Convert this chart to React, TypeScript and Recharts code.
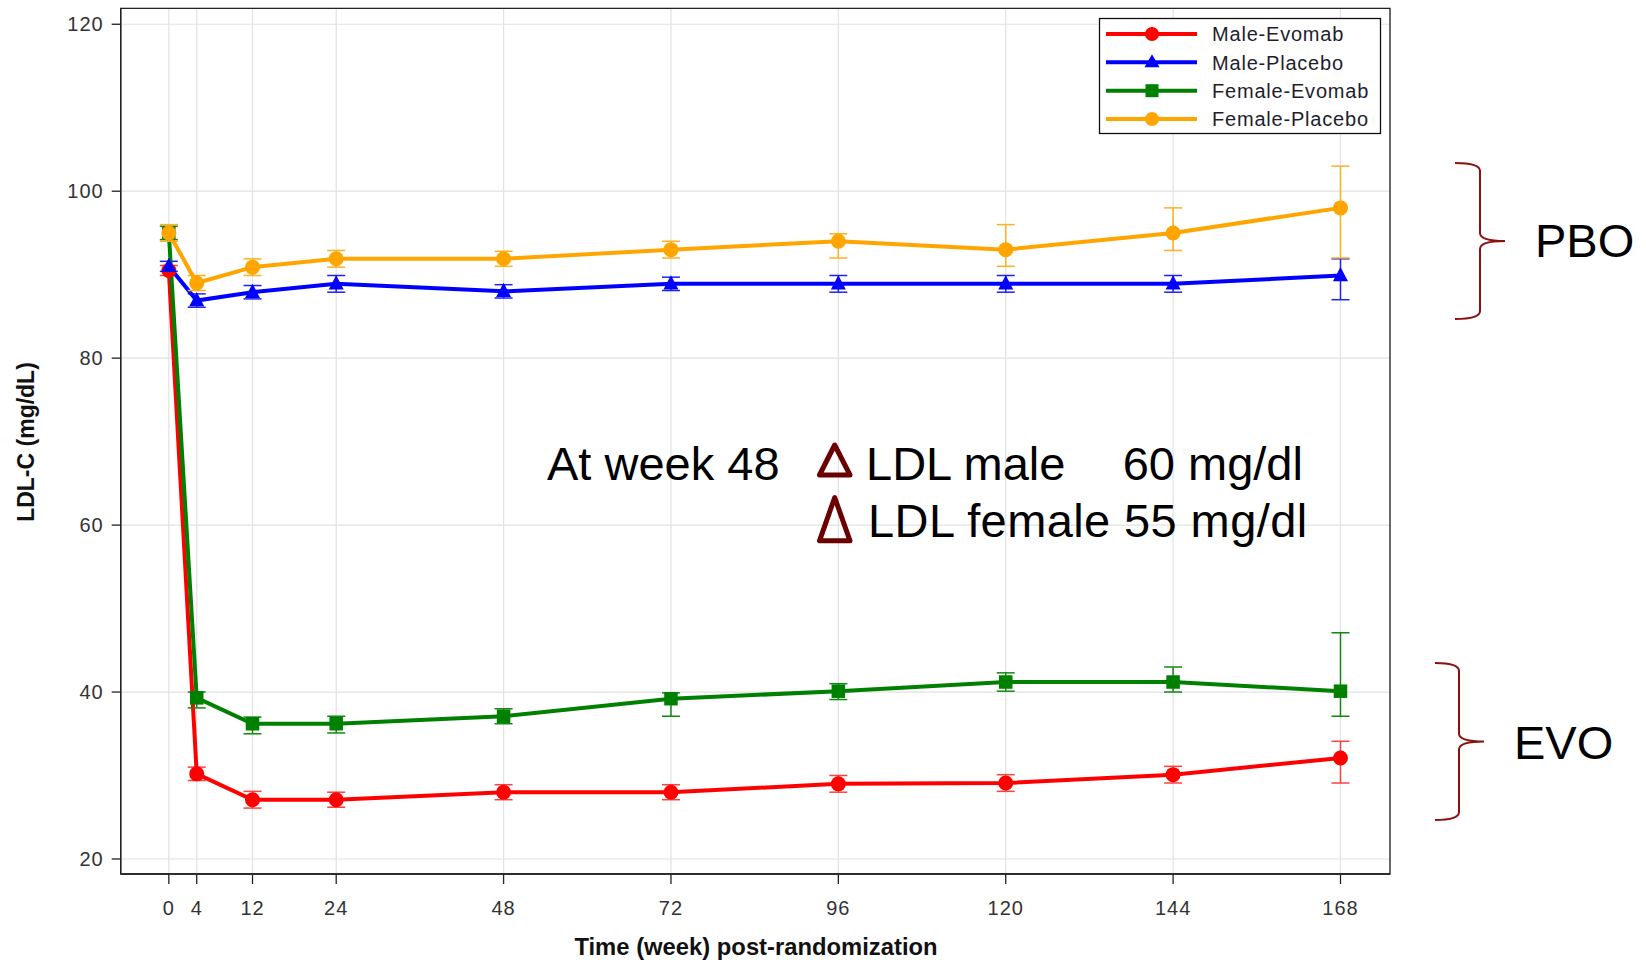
import React from 'react';
import { LineChart, Line, XAxis, YAxis, CartesianGrid, ErrorBar, ReferenceArea } from 'recharts';

const weeks = [0, 4, 12, 24, 48, 72, 96, 120, 144, 168];
const xTicks = [0, 4, 12, 24, 48, 72, 96, 120, 144, 168];
const yTicks = [20, 40, 60, 80, 100, 120];
const xDomain: [number, number] = [-6.9, 175.1];
const yDomain: [number, number] = [18.2, 121.9];

const maleEvomab = [90.5, 30.2, 27.1, 27.1, 28.0, 28.0, 29.0, 29.1, 30.1, 32.1];
const maleEvomabLo = [0.6, 0.8, 1.0, 0.9, 0.9, 0.9, 1.0, 1.0, 1.0, 3.0];
const maleEvomabHi = [0.6, 0.8, 1.0, 0.9, 0.9, 0.9, 1.0, 1.0, 1.0, 2.0];

const malePlacebo = [91.0, 86.9, 87.9, 88.9, 88.0, 88.9, 88.9, 88.9, 88.9, 89.9];
const malePlaceboLo = [0.6, 0.8, 0.8, 1.0, 0.8, 0.8, 1.0, 1.0, 1.0, 2.9];
const malePlaceboHi = [0.6, 0.8, 0.8, 1.0, 0.8, 0.8, 1.0, 1.0, 1.0, 2.0];

const femaleEvomab = [95.0, 39.3, 36.2, 36.2, 37.1, 39.2, 40.1, 41.2, 41.2, 40.1];
const femaleEvomabLo = [0.8, 1.2, 1.2, 1.1, 0.9, 2.1, 1.0, 1.1, 1.2, 3.0];
const femaleEvomabHi = [0.8, 0.7, 0.8, 0.9, 0.9, 0.7, 0.9, 1.1, 1.8, 7.0];

const femalePlacebo = [95.0, 89.0, 90.9, 91.9, 91.9, 93.0, 94.0, 93.0, 95.0, 98.0];
const femalePlaceboLo = [1.0, 0.9, 1.0, 1.0, 0.9, 1.0, 2.0, 2.0, 2.1, 6.0];
const femalePlaceboHi = [1.0, 0.9, 1.0, 1.0, 0.9, 1.0, 0.9, 3.0, 3.0, 5.0];

const seriesNames = ['Male-Evomab', 'Male-Placebo', 'Female-Evomab', 'Female-Placebo'];
const seriesColors = ['#ff0000', '#0000ff', '#008000', '#ffa500'];
const errColors = ['#ff4040', '#2020ff', '#108a10', '#ffb020'];

const data = weeks.map((w, i) => ({
  week: w,
  me: maleEvomab[i],
  meErr: [maleEvomabLo[i], maleEvomabHi[i]],
  mp: malePlacebo[i],
  mpErr: [malePlaceboLo[i], malePlaceboHi[i]],
  fe: femaleEvomab[i],
  feErr: [femaleEvomabLo[i], femaleEvomabHi[i]],
  fp: femalePlacebo[i],
  fpErr: [femalePlaceboLo[i], femalePlaceboHi[i]],
}));

const FONT = '"Liberation Sans", Arial, Helvetica, sans-serif';

const circleDot = (color: string, r: number) => (props: any) => {
  const { cx, cy, index } = props;
  if (cx == null || cy == null) return <g key={`c${index}`} />;
  return <circle key={`c${index}`} cx={cx} cy={cy} r={r} fill={color} stroke="none" />;
};
const triDot = (color: string, s: number) => (props: any) => {
  const { cx, cy, index } = props;
  if (cx == null || cy == null) return <g key={`t${index}`} />;
  const h = s * 0.95;
  const pts = `${cx},${cy - h * 0.6} ${cx - s / 2},${cy + h * 0.4} ${cx + s / 2},${cy + h * 0.4}`;
  return <polygon key={`t${index}`} points={pts} fill={color} stroke="none" />;
};
const squareDot = (color: string, s: number) => (props: any) => {
  const { cx, cy, index } = props;
  if (cx == null || cy == null) return <g key={`s${index}`} />;
  return <rect key={`s${index}`} x={cx - s / 2} y={cy - s / 2} width={s} height={s} fill={color} stroke="none" />;
};

const Brace = ({ endX, spineX, pointX, top, bottom }: any) => {
  const mid = (top + bottom) / 2;
  const r = 8;
  const d = `M ${endX} ${top} Q ${spineX} ${top} ${spineX} ${top + r} L ${spineX} ${mid - r} Q ${spineX} ${mid} ${pointX} ${mid} Q ${spineX} ${mid} ${spineX} ${mid + r} L ${spineX} ${bottom - r} Q ${spineX} ${bottom} ${endX} ${bottom}`;
  return <path d={d} fill="none" stroke="#8b1010" strokeWidth={2} />;
};

const LegendBox = () => {
  const rowsY = [34, 62.3, 90.7, 119];
  return (
    <g>
      <rect x={1099.5} y={18.5} width={281} height={115} fill="#fff" stroke="#111" strokeWidth={1.3} />
      {seriesNames.map((name, i) => {
        const y = rowsY[i];
        const c = seriesColors[i];
        const mx = 1152;
        let marker: any;
        if (i === 1) marker = <polygon points={`${mx},${y - 8} ${mx - 7.5},${y + 5} ${mx + 7.5},${y + 5}`} fill={c} />;
        else if (i === 2) marker = <rect x={mx - 6.5} y={y - 6.5} width={13} height={13} fill={c} />;
        else marker = <circle cx={mx} cy={y} r={7} fill={c} />;
        return (
          <g key={name}>
            <line x1={1106} x2={1197} y1={y} y2={y} stroke={c} strokeWidth={4} />
            {marker}
            <text x={1212} y={y} dy="0.36em" fontFamily={FONT} fontSize={20} letterSpacing={0.8} fill="#1e1e2e">{name}</text>
          </g>
        );
      })}
    </g>
  );
};

const Overlay = () => (
  <svg width={1646} height={960} style={{ position: 'absolute', left: 0, top: 0, pointerEvents: 'none' }}>
    <LegendBox />
    <text x={26} y={442} transform="rotate(-90 26 442)" textAnchor="middle" dy="0.36em" fontFamily={FONT} fontWeight="bold" fontSize={23} fill="#111">LDL-C (mg/dL)</text>
    <text x={756} y={946} textAnchor="middle" dy="0.36em" fontFamily={FONT} fontWeight="bold" fontSize={23.8} fill="#111">Time (week) post-randomization</text>
    <text x={547} y={480} fontFamily={FONT} fontSize={47} fill="#000">At week 48</text>
    <polygon points="834.7,445 819.5,475 850,475" fill="none" stroke="#6b0000" strokeWidth={5} strokeLinejoin="round" />
    <text x={866} y={480} fontFamily={FONT} fontSize={47} fill="#000">LDL male</text>
    <text x={1122.7} y={480} fontFamily={FONT} fontSize={47} fill="#000">60 mg/dl</text>
    <polygon points="834.7,497.5 819.5,540.8 850,540.8" fill="none" stroke="#6b0000" strokeWidth={5} strokeLinejoin="round" />
    <text x={868} y={537} fontFamily={FONT} fontSize={47} letterSpacing={0.4} fill="#000">LDL female 55 mg/dl</text>
    <Brace endX={1455} spineX={1480} pointX={1505} top={163} bottom={319} />
    <text x={1535} y={240} dy="0.36em" fontFamily={FONT} fontSize={47} fill="#000">PBO</text>
    <Brace endX={1435} spineX={1459} pointX={1484} top={663} bottom={820} />
    <text x={1514} y={742} dy="0.36em" fontFamily={FONT} fontSize={47} fill="#000">EVO</text>
  </svg>
);

export default function App() {
  return (
    <div style={{ position: 'absolute', left: 0, top: 0, width: 1646, height: 960, background: '#fff' }}>
      <LineChart width={1646} height={960} data={data} margin={{ top: 8.4, right: 256, bottom: 36, left: 20.7 }}>
        <CartesianGrid stroke="#e2e2e2" strokeWidth={1.2} />
        <XAxis
          dataKey="week"
          type="number"
          domain={xDomain}
          ticks={xTicks}
          interval={0}
          height={50}
          axisLine={{ stroke: '#222', strokeWidth: 1.3 }}
          tickLine={{ stroke: '#222', strokeWidth: 1.3 }}
          tickSize={10}
          tickMargin={17}
          tick={{ fontFamily: FONT, fontSize: 20, fill: '#333', letterSpacing: 1 }}
        />
        <YAxis
          type="number"
          domain={yDomain}
          ticks={yTicks}
          interval={0}
          width={100}
          axisLine={{ stroke: '#222', strokeWidth: 1.3 }}
          tickLine={{ stroke: '#222', strokeWidth: 1.3 }}
          tickSize={9}
          tickMargin={8}
          tick={{ fontFamily: FONT, fontSize: 20, fill: '#333', letterSpacing: 1 }}
        />
        <ReferenceArea x1={xDomain[0]} x2={xDomain[1]} y1={yDomain[0]} y2={yDomain[1]} fill="none" stroke="#222" strokeWidth={1.3} ifOverflow="visible" />
        <Line dataKey="me" type="linear" stroke={seriesColors[0]} strokeWidth={4} dot={circleDot(seriesColors[0], 7.5)} activeDot={false} isAnimationActive={false}>
          <ErrorBar dataKey="meErr" width={9} stroke={errColors[0]} strokeWidth={1.5} direction="y" />
        </Line>
        <Line dataKey="mp" type="linear" stroke={seriesColors[1]} strokeWidth={4} dot={triDot(seriesColors[1], 15)} activeDot={false} isAnimationActive={false}>
          <ErrorBar dataKey="mpErr" width={9} stroke={errColors[1]} strokeWidth={1.5} direction="y" />
        </Line>
        <Line dataKey="fe" type="linear" stroke={seriesColors[2]} strokeWidth={4} dot={squareDot(seriesColors[2], 13.5)} activeDot={false} isAnimationActive={false}>
          <ErrorBar dataKey="feErr" width={9} stroke={errColors[2]} strokeWidth={1.5} direction="y" />
        </Line>
        <Line dataKey="fp" type="linear" stroke={seriesColors[3]} strokeWidth={4} dot={circleDot(seriesColors[3], 7.5)} activeDot={false} isAnimationActive={false}>
          <ErrorBar dataKey="fpErr" width={9} stroke={errColors[3]} strokeWidth={1.5} direction="y" />
        </Line>
      </LineChart>
      <Overlay />
    </div>
  );
}
